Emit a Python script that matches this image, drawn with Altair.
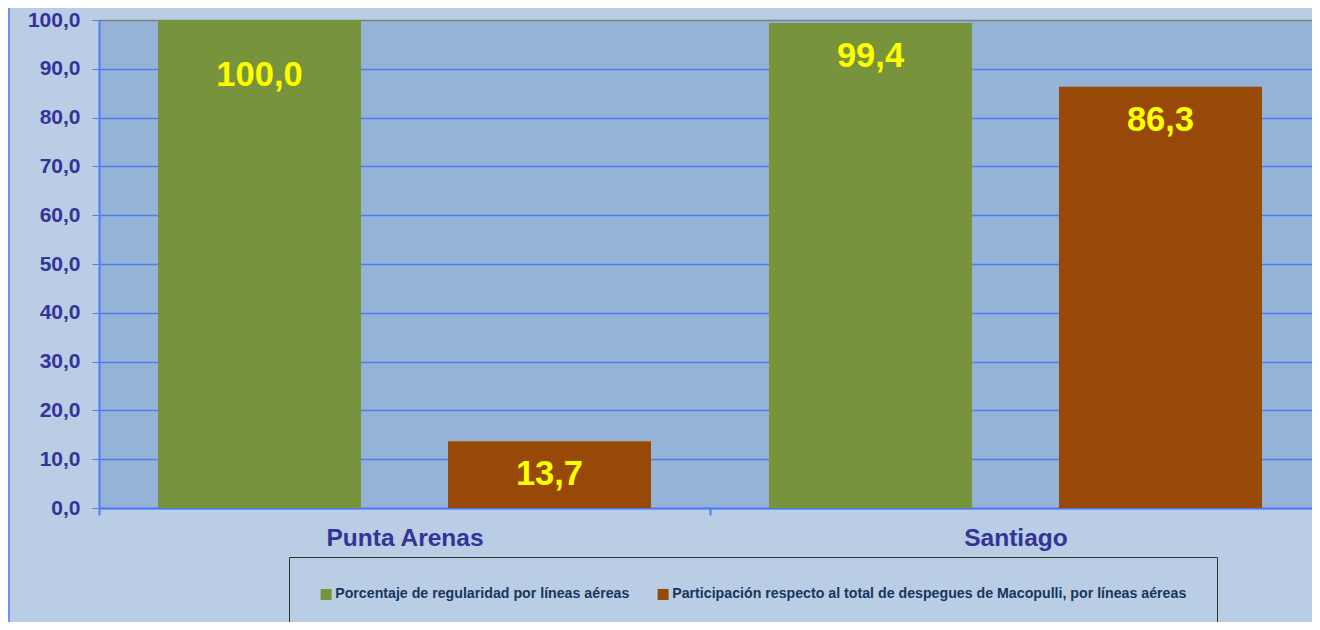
import altair as alt
import pandas as pd

cities = ["Punta Arenas", "Santiago"]
series = ["Porcentaje de regularidad por líneas aéreas",
          "Participación respecto al total de despegues de Macopulli, por líneas aéreas"]
regularidad = [100.0, 99.4]
participacion = [13.7, 86.3]
y_ticks = [0, 10, 20, 30, 40, 50, 60, 70, 80, 90, 100]
colors = ["#77933C", "#984807"]

rows = []
for i, c in enumerate(cities):
    rows.append({"city": c, "serie": series[0], "value": regularidad[i]})
    rows.append({"city": c, "serie": series[1], "value": participacion[i]})
df = pd.DataFrame(rows)

FONT = "Liberation Sans"

x_enc = alt.X("city:N", sort=cities, title=None,
              scale=alt.Scale(paddingInner=0, paddingOuter=0, range=[0, 1222]),
              axis=alt.Axis(labelAngle=0, labelFont=FONT, labelFontSize=24.5,
                            labelFontWeight="bold", labelColor="#333399",
                            labelPadding=11, tickBand="extent", tickSize=7,
                            tickColor="#4F7BF3", domainColor="#4F7BF3",
                            domainWidth=2, tickWidth=2, grid=False))
xo_enc = alt.XOffset("serie:N", sort=series,
                     scale=alt.Scale(paddingInner=0.3, paddingOuter=0.2035))

base = alt.Chart(df)

bars = base.mark_bar().encode(
    x=x_enc,
    xOffset=xo_enc,
    y=alt.Y("value:Q", title=None,
            scale=alt.Scale(domain=[0, 100], nice=False),
            axis=alt.Axis(values=y_ticks, labelFont=FONT, labelFontSize=21,
                          labelFontWeight="bold", labelColor="#333399",
                          labelPadding=12, tickSize=7, tickColor="#4F7BF3",
                          domainColor="#4F7BF3", domainWidth=2,
                          gridColor=alt.condition("datum.value == 100",
                                                  alt.value("#808080"),
                                                  alt.value("#4F7BF3")),
                          gridWidth=1.5,
                          labelExpr="replace(format(datum.value, '.1f'), '.', ',')")),
    color=alt.Color("serie:N", sort=series,
                    scale=alt.Scale(domain=series, range=colors),
                    legend=alt.Legend(orient="none", legendX=190, legendY=537,
                                      direction="horizontal", title=None,
                                      symbolType="square", symbolSize=121,
                                      symbolStrokeWidth=0, labelFont=FONT,
                                      labelFontSize=14.2, labelFontWeight="bold",
                                      labelColor="#17365D", labelLimit=1000,
                                      labelOffset=2, columnPadding=26,
                                      padding=30, strokeColor="#333333",
                                      fillColor="#B9CDE5")),
)

labels = base.transform_calculate(
    lab="datum.value >= 100 ? datum.value - 11.5 : datum.value - 7.0",
    txt="replace(format(datum.value, '.1f'), '.', ',')",
).mark_text(font=FONT, fontSize=34.5, fontWeight="bold", color="#FFFF00",
            baseline="middle").encode(
    x=alt.X("city:N", sort=cities,
            scale=alt.Scale(paddingInner=0, paddingOuter=0, range=[0, 1222])),
    xOffset=xo_enc,
    y=alt.Y("lab:Q", scale=alt.Scale(domain=[0, 100], nice=False)),
    text="txt:N",
)

edge = alt.Chart(pd.DataFrame({"a": [0]})).mark_rule(
    color="#7094F0", strokeWidth=2).encode(
    x=alt.value(-90), y=alt.value(-12), y2=alt.value(602))

chart = alt.layer(edge, bars, labels).properties(
    width=1213, height=488,
    autosize=alt.AutoSizeParams(type="none"),
    padding={"left": 91, "top": 12, "right": 0, "bottom": 114},
    background="#B9CDE5",
).configure_view(fill="#95B3D7", stroke=None)

chart.save("out.html", embed_options={"renderer": "svg", "actions": False})
